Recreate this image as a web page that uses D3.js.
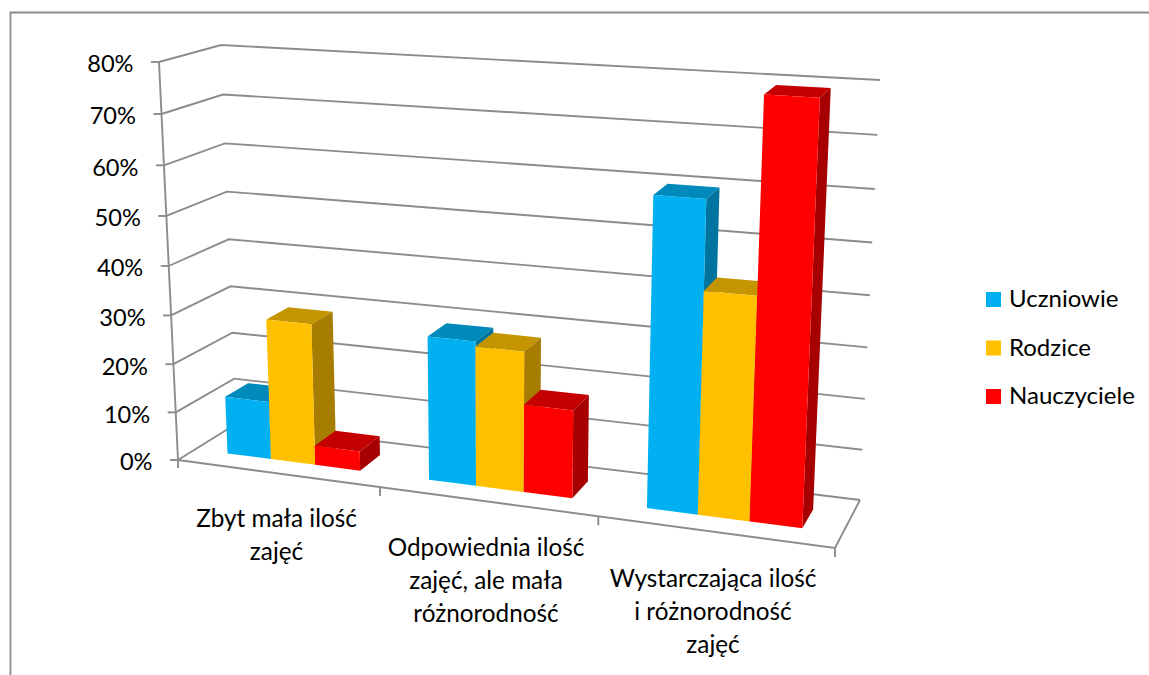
<!DOCTYPE html>
<html><head><meta charset="utf-8">
<script src="https://cdn.jsdelivr.net/npm/d3@7"></script>
<style>html,body{margin:0;padding:0;background:#fff}svg{display:block}text{font-family:Lato,Carlito,sans-serif;fill:#000}</style>
</head><body><div id="c"></div>
<script>
const categories = [
  ["Zbyt mała ilość","zajęć"],
  ["Odpowiednia ilość","zajęć, ale mała","różnorodność"],
  ["Wystarczająca ilość","i różnorodność","zajęć"]
];
const seriesNames = ["Uczniowie","Rodzice","Nauczyciele"];
const uczniowie = [12,29,60];
const rodzice = [29,28,43];
const nauczyciele = [4,17.5,79.5];
const valueTicks = [0,10,20,30,40,50,60,70,80];

const colors = {
  Uczniowie:{front:"#00B0F0",top:"#0089BB",side:"#00749E"},
  Rodzice:{front:"#FFC000",top:"#C49500",side:"#A67D00"},
  Nauczyciele:{front:"#FF0000",top:"#C40000",side:"#A60000"}
};
const seriesValues = {Uczniowie:uczniowie,Rodzice:rodzice,Nauczyciele:nauczyciele};
const W=1149,H=675,GRID="#8C8C8C";
const svg=d3.select("#c").append("svg").attr("width",W).attr("height",H);

// cube corners: F/B front/back, L/R left/right, 0/1 bottom/top
const C={FL0:[178,460],FL1:[159,62],BL0:[236,424],BL1:[221,45],
         FR0:[835,548],FR1:[855,105],BR0:[860,500],BR1:[880,80]};
const warp=b=>x=>(1+b)*x/(1+b*x);
const wu=warp(-0.112), wv=warp(-0.049);
const catIndex=d3.scaleLinear().domain([0,categories.length]).range([0,1]);
const vScale=d3.scaleLinear().domain([0,80]).range([0,1]);
const lerp=(a,b,t)=>[a[0]+(b[0]-a[0])*t,a[1]+(b[1]-a[1])*t];
function P(u,val,d){
  const U=wu(u),T=wv(vScale(val));
  const f0=lerp(C.FL0,C.FR0,U),f1=lerp(C.FL1,C.FR1,U),b0=lerp(C.BL0,C.BR0,U),b1=lerp(C.BL1,C.BR1,U);
  return lerp(lerp(f0,b0,d),lerp(f1,b1,d),T);
}
// frame
svg.append("path").attr("d",`M${W},12.5H10.5V${H}`).attr("fill","none").attr("stroke",GRID).attr("stroke-width",1.8);
const line=d3.line();
const stroke=(pts)=>svg.append("path").attr("d",line(pts)).attr("fill","none").attr("stroke",GRID).attr("stroke-width",1.9);
// gridlines
valueTicks.forEach(v=>{
  stroke([P(0,v,0),P(0,v,1),P(1,v,1)]);
  const p=P(0,v,0);
  stroke([[p[0]-8,p[1]],p]);
  svg.append("text").attr("x",p[0]-25.5).attr("y",p[1]+2).attr("dy","0.36em")
    .attr("text-anchor","end").attr("font-size",23.6).text(v+"%");
});
stroke([P(0,0,0),P(0,80,0)]);
stroke([P(0,0,0),P(1,0,0),P(1,0,1)]);
d3.range(categories.length+1).forEach(i=>{
  const p=P(catIndex(i),0,0);
  stroke([p,[p[0],p[1]+(i===0?8:9)]]);
});
// bars
const band=d3.scaleBand().domain(d3.range(categories.length)).range([0,1]).paddingInner(1/3).paddingOuter(1/6);
const sub=d3.scaleBand().domain(seriesNames).range([0,band.bandwidth()]);
const D0=0.30,D1=0.70;
const poly=(pts,fill)=>svg.append("polygon").attr("points",pts.map(p=>p.join(",")).join(" ")).attr("fill",fill);
categories.forEach((c,i)=>{
  seriesNames.forEach(s=>{
    const val=seriesValues[s][i],u0=band(i)+sub(s),u1=u0+sub.bandwidth(),col=colors[s];
    poly([P(u0,val,D0),P(u1,val,D0),P(u1,val,D1),P(u0,val,D1)],col.top);
    poly([P(u1,0,D0),P(u1,val,D0),P(u1,val,D1),P(u1,0,D1)],col.side);
    poly([P(u0,0,D0),P(u1,0,D0),P(u1,val,D0),P(u0,val,D0)],col.front);
  });
});
// category labels
const labelCx=[276.5,486,713], labelTop=[527,556,587], lineH=33;
categories.forEach((lines,i)=>{
  lines.forEach((t,j)=>svg.append("text").attr("x",labelCx[i]).attr("y",labelTop[i]+j*lineH)
    .attr("text-anchor","middle").attr("font-size",24.3).text(t));
});
// legend
seriesNames.forEach((s,i)=>{
  const y=292+i*48.5;
  svg.append("rect").attr("x",986).attr("y",y).attr("width",15).attr("height",15).attr("fill",colors[s].front);
  svg.append("text").attr("x",1009).attr("y",y+15).attr("font-size",24).text(s);
});
</script></body></html>
